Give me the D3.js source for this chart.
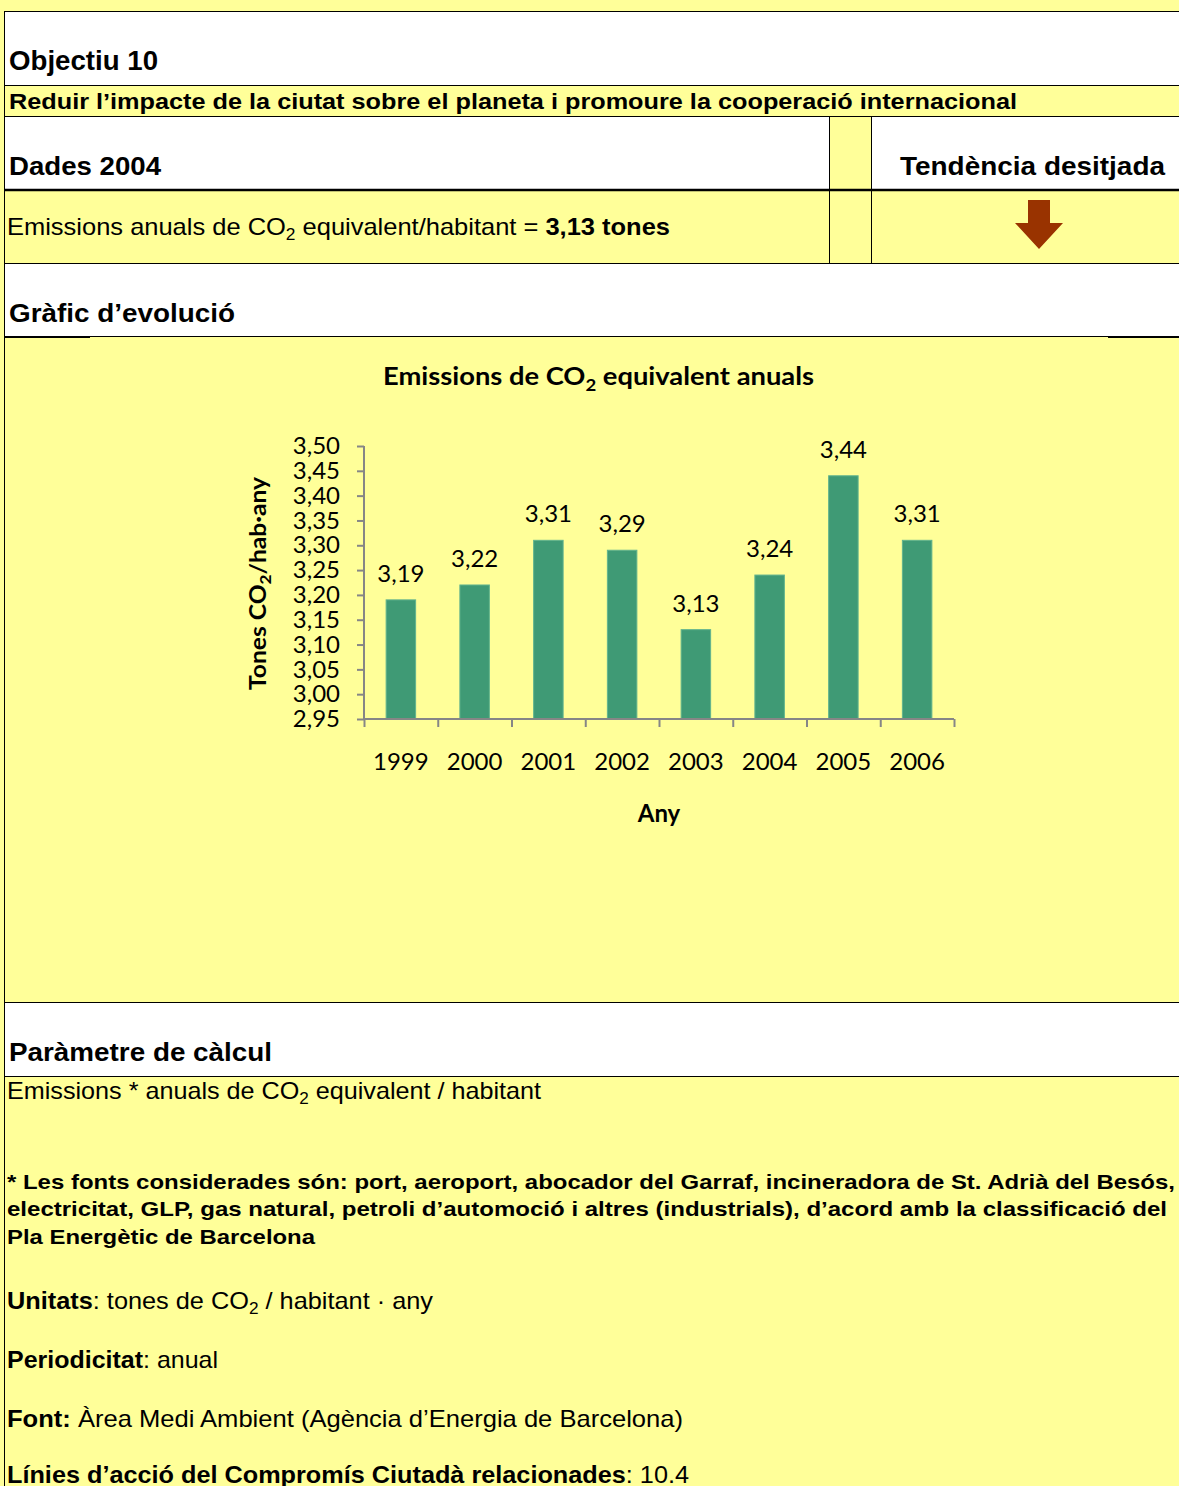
<!DOCTYPE html>
<html lang="ca">
<head>
<meta charset="utf-8">
<style>
  body { margin: 0; background: #ffff99; }
  svg { display: block; }
  .arial { font-family: "Liberation Sans", Arial, sans-serif; fill: #000; }
  .cal { font-family: Lato, "Open Sans", sans-serif; fill: #000; }
</style>
</head>
<body>
<script src="https://d3js.org/d3.v7.min.js"></script>
<script>
  // chart data
  const years = ["1999", "2000", "2001", "2002", "2003", "2004", "2005", "2006"];
  const emissions = [3.19, 3.22, 3.31, 3.29, 3.13, 3.24, 3.44, 3.31];
  const yTicks = [2.95, 3.00, 3.05, 3.10, 3.15, 3.20, 3.25, 3.30, 3.35, 3.40, 3.45, 3.50];

  const W = 1179, H = 1486;
  const yellow = "#ffff99";
  const fmt = v => v.toFixed(2).replace(".", ",");

  const svg = d3.select("body").append("svg")
    .attr("width", W).attr("height", H);

  // page backgrounds
  svg.append("rect").attr("width", W).attr("height", H).attr("fill", yellow);
  const white = [[5, 12, W, 85], [5, 117, 829, 189], [872, 117, W, 189], [5, 264, W, 336], [5, 1003, W, 1076]];
  white.forEach(r => svg.append("rect")
    .attr("x", r[0]).attr("y", r[1]).attr("width", r[2] - r[0]).attr("height", r[3] - r[1])
    .attr("fill", "#fff"));

  // table lines
  function hline(y, x1, x2, w) {
    svg.append("line").attr("x1", x1).attr("x2", x2).attr("y1", y).attr("y2", y)
      .attr("stroke", "#000").attr("stroke-width", w || 1);
  }
  function vline(x, y1, y2) {
    svg.append("line").attr("x1", x).attr("x2", x).attr("y1", y1).attr("y2", y2)
      .attr("stroke", "#000").attr("stroke-width", 1);
  }
  hline(11.5, 4, W);
  hline(85.5, 4, W);
  hline(116.5, 4, W);
  hline(190, 4, W, 2.5);
  hline(263.5, 4, W);
  hline(336.5, 4, W);
  hline(337, 4, 90, 2);
  hline(337, 1108, W, 2);
  hline(1002.5, 4, W);
  hline(1076.5, 4, W);
  vline(4.5, 11, H);
  vline(829.5, 116, 264);
  vline(871.5, 116, 264);

  // helper for text lines
  function txt(x, y, size, bold, parts, opts) {
    opts = opts || {};
    const t = svg.append("text").attr("class", opts.cls || "arial")
      .attr("x", x).attr("y", y).attr("font-size", size)
      .attr("font-weight", bold ? "bold" : "normal");
    if (opts.anchor) t.attr("text-anchor", opts.anchor);
    if (opts.len) t.attr("textLength", opts.len).attr("lengthAdjust", "spacingAndGlyphs");
    if (typeof parts === "string") parts = [[parts]];
    parts.forEach(p => {
      const s = t.append("tspan").text(p[0]);
      if (p[1] === "b") s.attr("font-weight", "bold");
      if (p[1] === "sub") s.attr("font-size", size * 0.68).attr("dy", size * 0.22);
      if (p[1] === "up") s.attr("dy", -size * 0.22);
    });
    return t;
  }

  txt(9, 70, 27, true, "Objectiu 10", { len: 149 });
  txt(9, 109, 22, true, "Reduir l\u2019impacte de la ciutat sobre el planeta i promoure la cooperació internacional", { len: 1008 });
  txt(9, 175, 25, true, "Dades 2004", { len: 152 });
  txt(900, 175, 25, true, "Tendència desitjada", { len: 265 });
  txt(7, 235, 24, false, [["Emissions anuals de CO"], ["2", "sub"], [" equivalent/habitant  = ", "up"], ["3,13 tones", "b"]], { len: 663 });
  txt(9, 322, 25, true, "Gràfic d\u2019evolució", { len: 226 });
  txt(9, 1061, 25, true, "Paràmetre de càlcul", { len: 263 });
  txt(7, 1099, 24, false, [["Emissions * anuals de CO"], ["2", "sub"], [" equivalent / habitant", "up"]], { len: 534 });
  txt(7, 1189, 21, true, "* Les fonts considerades són: port, aeroport, abocador del Garraf, incineradora de St. Adrià del Besós,", { len: 1168 });
  txt(7, 1216, 21, true, "electricitat, GLP, gas natural, petroli d\u2019automoció i altres (industrials), d\u2019acord amb la classificació del", { len: 1160 });
  txt(7, 1244, 21, true, "Pla Energètic de Barcelona", { len: 308 });
  txt(7, 1309, 24, false, [["Unitats", "b"], [": tones de CO"], ["2", "sub"], ["  / habitant · any", "up"]], { len: 426 });
  txt(7, 1368, 24, false, [["Periodicitat", "b"], [": anual"]], { len: 211 });
  txt(7, 1427, 24, false, [["Font:", "b"], [" Àrea  Medi Ambient (Agència d\u2019Energia de Barcelona)"]], { len: 676 });
  txt(7, 1483, 24, false, [["Línies d\u2019acció del Compromís Ciutadà relacionades", "b"], [": 10.4"]], { len: 682 });

  // desired-trend arrow
  const ax = 1039;
  svg.append("path")
    .attr("d", `M${ax - 11},200 H${ax + 11} V223 H${ax + 24} L${ax},249 L${ax - 24},223 H${ax - 11} Z`)
    .attr("fill", "#993300");

  // ---- bar chart ----
  const plot = { left: 364, right: 954, top: 446, bottom: 719 };
  const x = d3.scaleBand().domain(years).range([plot.left, plot.right]).paddingInner(0.6).paddingOuter(0.3);
  const y = d3.scaleLinear().domain([2.95, 3.5]).range([plot.bottom, plot.top]);
  const axisColor = "#868686";

  svg.append("text").attr("class", "cal").attr("x", 383).attr("y", 385)
    .attr("font-size", 25).attr("font-weight", "bold")
    .attr("textLength", 431).attr("lengthAdjust", "spacingAndGlyphs")
    .call(t => {
      t.append("tspan").text("Emissions de CO");
      t.append("tspan").text("2").attr("font-size", 17).attr("dy", 6);
      t.append("tspan").text(" equivalent anuals").attr("dy", -6);
    });

  const g = svg.append("g");

  g.selectAll("rect.bar").data(emissions).join("rect")
    .attr("class", "bar")
    .attr("x", (d, i) => x(years[i]))
    .attr("width", x.bandwidth())
    .attr("y", d => y(d))
    .attr("height", d => y(2.95) - y(d))
    .attr("fill", "#3f9a75")
    .attr("stroke", "#62b48e").attr("stroke-width", 1);

  g.selectAll("text.val").data(emissions).join("text")
    .attr("class", "cal val")
    .attr("x", (d, i) => x(years[i]) + x.bandwidth() / 2)
    .attr("y", d => y(d) - 18)
    .attr("text-anchor", "middle").attr("font-size", 24)
    .text(d => fmt(d));

  const yAxis = g.append("g").attr("transform", `translate(${plot.left},0)`)
    .call(d3.axisLeft(y).tickValues(yTicks).tickSize(7).tickPadding(17).tickFormat(fmt));
  yAxis.selectAll("text").attr("class", "cal").attr("font-size", 24).attr("fill", "#000");

  // x axis: line with ticks at category boundaries
  const edge = d3.scaleLinear().domain([0, years.length]).range([plot.left, plot.right]);
  const xAxis = g.append("g").attr("transform", `translate(0,${plot.bottom})`)
    .call(d3.axisBottom(edge).ticks(years.length).tickSize(8).tickFormat(""));
  xAxis.selectAll("text").remove();

  [yAxis, xAxis].forEach(a => {
    a.select(".domain").attr("stroke", axisColor).attr("stroke-width", 2);
    a.selectAll(".tick line").attr("stroke", axisColor).attr("stroke-width", 2);
  });
  xAxis.select(".domain").attr("d", `M${plot.left},0H${plot.right}`);
  yAxis.select(".domain").attr("d", `M0,${plot.top}V${plot.bottom}`);

  g.selectAll("text.yr").data(years).join("text")
    .attr("class", "cal yr")
    .attr("x", d => x(d) + x.bandwidth() / 2)
    .attr("y", 770)
    .attr("text-anchor", "middle").attr("font-size", 24)
    .text(d => d);

  svg.append("text").attr("class", "cal").attr("x", 659).attr("y", 822)
    .attr("text-anchor", "middle").attr("font-size", 24).attr("font-weight", "bold").text("Any");

  svg.append("text").attr("class", "cal")
    .attr("transform", "translate(266,690) rotate(-90)")
    .attr("font-size", 23).attr("font-weight", "bold")
    .attr("textLength", 213).attr("lengthAdjust", "spacingAndGlyphs")
    .call(t => {
      t.append("tspan").text("Tones CO");
      t.append("tspan").text("2").attr("font-size", 16).attr("dy", 5);
      t.append("tspan").text("/hab·any").attr("dy", -5);
    });
</script>
</body>
</html>
